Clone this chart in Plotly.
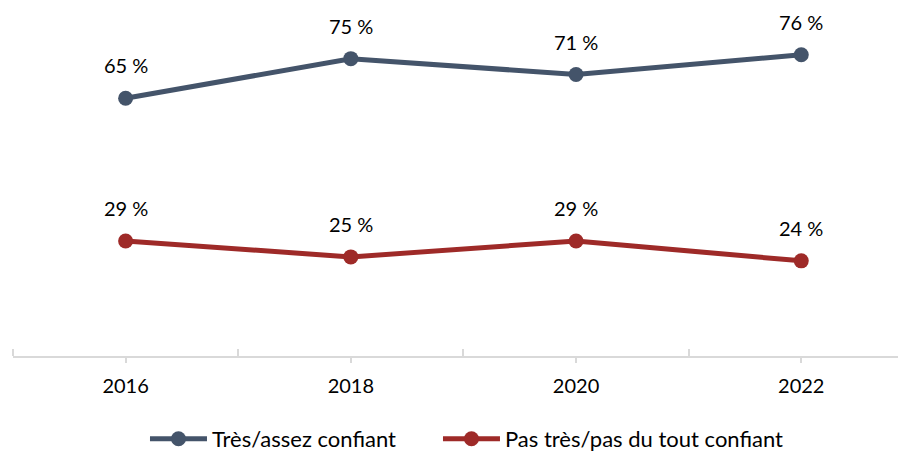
import plotly.graph_objects as go

years = [2016, 2018, 2020, 2022]
tres_assez = [65, 75, 71, 76]
pas_tres = [29, 25, 29, 24]
series_names = ["Très/assez confiant", "Pas très/pas du tout confiant"]
colors = ["#44546A", "#9E2A28"]
tick_labels = ["2016", "2018", "2020", "2022"]

FONT = "Lato, Carlito, Calibri, sans-serif"

fig = go.Figure()
for i, (name, vals, col) in enumerate(zip(series_names, [tres_assez, pas_tres], colors)):
    fig.add_trace(go.Scatter(
        x=years, y=vals, name=name, mode="lines+markers",
        line=dict(color=col, width=5),
        marker=dict(color=col, size=15),
        legend="legend" if i == 0 else "legend2",
    ))
    for xv, yv in zip(years, vals):
        fig.add_annotation(x=xv, y=yv, text=f"{yv} %", showarrow=False,
                           yshift=33, font=dict(family=FONT, size=20, color="#000000"))

leg_common = dict(orientation="h", xanchor="left", y=-0.239, yanchor="middle",
                  font=dict(size=22), itemwidth=57, bgcolor="rgba(0,0,0,0)")

# page shows the figure 8px from the left edge, so width is reduced accordingly
fig.update_layout(
    width=898, height=452,
    margin=dict(l=5, r=0, t=0, b=96.5),
    paper_bgcolor="white", plot_bgcolor="white",
    font=dict(family=FONT, size=20, color="#000000"),
    showlegend=True,
    legend=dict(x=0.1478, **leg_common),
    legend2=dict(x=0.4759, **leg_common),
    xaxis=dict(
        range=[2015, 2022.93], tickvals=years, ticktext=tick_labels,
        showgrid=False, zeroline=False,
        showline=True, linecolor="#D9D9D9", linewidth=2,
        ticks="outside", ticklen=5, tickcolor="#D9D9D9", tickwidth=2,
        ticklabelstandoff=6,
        minor=dict(tickvals=[2015, 2017, 2019, 2021], ticks="inside", ticklen=7,
                   tickcolor="#D9D9D9", tickwidth=2, showgrid=False),
    ),
    yaxis=dict(range=[0, 87.78], showgrid=False, zeroline=False, showline=False,
               showticklabels=False, ticks=""),
)

fig.write_html("out.html")
